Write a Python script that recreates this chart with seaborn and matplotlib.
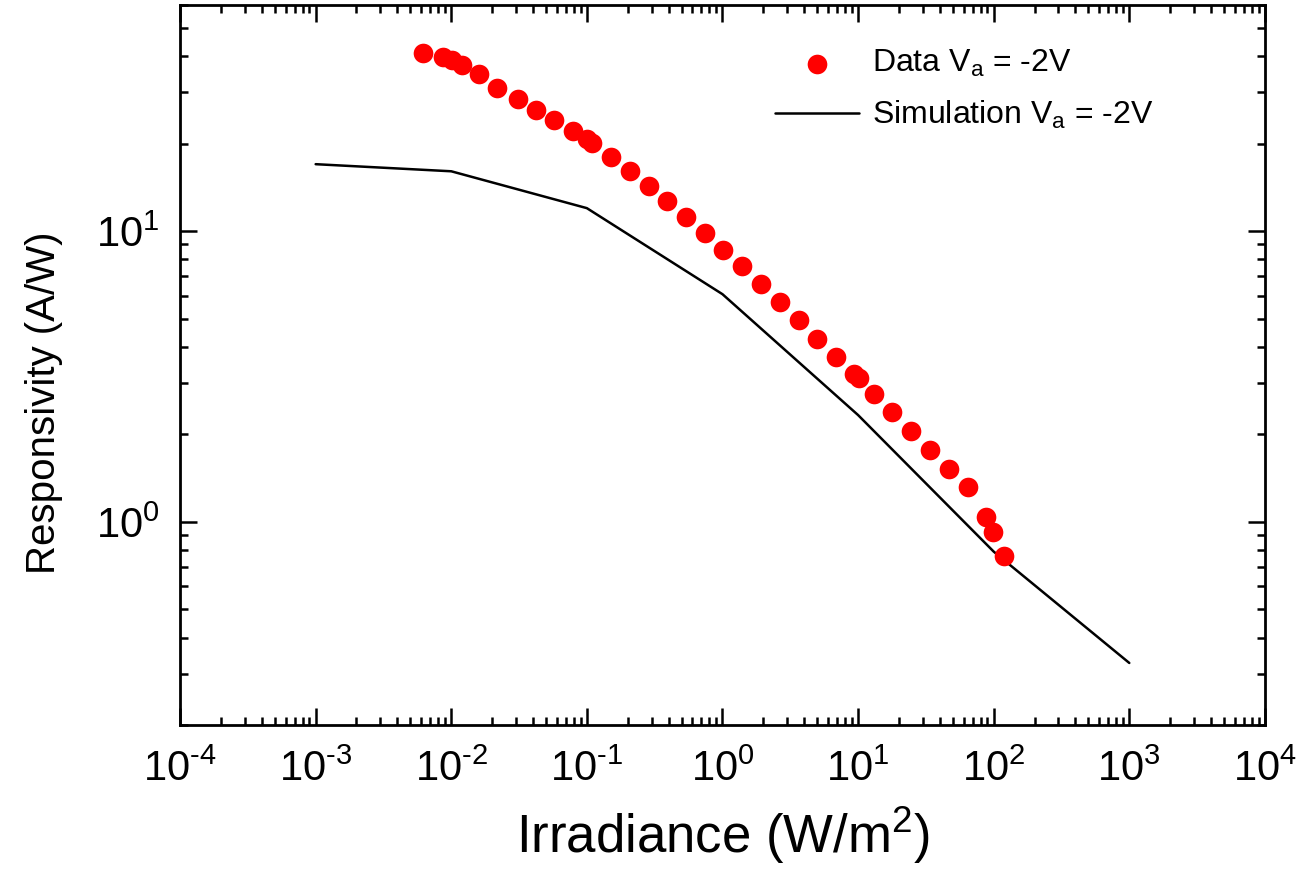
import numpy as np
import pandas as pd
import matplotlib
matplotlib.use('Agg')
import matplotlib.pyplot as plt
import seaborn as sns
from matplotlib.ticker import LogLocator, NullFormatter

irradiance_data = [0.0062, 0.0087, 0.0101, 0.0119, 0.0160, 0.0219, 0.0309, 0.0420,
                   0.0576, 0.0795, 0.0998, 0.110, 0.151, 0.208, 0.286, 0.392, 0.539,
                   0.745, 1.005, 1.40, 1.93, 2.66, 3.65, 4.99, 6.88, 9.3, 10.1, 13.1,
                   17.9, 24.6, 34.0, 46.7, 64.4, 87.9, 99.5, 120.0]
responsivity_data = [41.0, 39.7, 38.9, 37.2, 34.6, 31.0, 28.5, 26.1, 24.2, 22.1, 20.8,
                     20.1, 18.0, 16.1, 14.3, 12.7, 11.2, 9.87, 8.61, 7.57, 6.57, 5.71,
                     4.95, 4.27, 3.69, 3.22, 3.12, 2.76, 2.38, 2.05, 1.77, 1.52, 1.32,
                     1.04, 0.924, 0.760]

# simulation curve
irradiance_sim = [1e-3, 1e-2, 1e-1, 1e0, 1e1, 1e2, 1e3]
responsivity_sim = [17.0, 16.07, 12.0, 6.07, 2.33, 0.79, 0.327]

# tick labels (plain hyphen in the exponent, like the original)
x_ticks = [1e-4, 1e-3, 1e-2, 1e-1, 1e0, 1e1, 1e2, 1e3, 1e4]
x_exps = ['-4', '-3', '-2', '-1', '0', '1', '2', '3', '4']
y_ticks = [1e0, 1e1]
y_exps = ['0', '1']

df_data = pd.DataFrame({'irr': irradiance_data, 'resp': responsivity_data})
df_sim = pd.DataFrame({'irr': irradiance_sim, 'resp': responsivity_sim})

sns.set_style('ticks')
plt.rcParams['font.family'] = ['Liberation Sans', 'DejaVu Sans']
plt.rcParams['mathtext.fontset'] = 'custom'
plt.rcParams['mathtext.rm'] = 'Liberation Sans'
plt.rcParams['mathtext.it'] = 'Liberation Sans:italic'
plt.rcParams['mathtext.bf'] = 'Liberation Sans:bold'
plt.rcParams['axes.unicode_minus'] = False
for k in ['text.color', 'axes.labelcolor', 'xtick.color', 'ytick.color', 'axes.edgecolor']:
    plt.rcParams[k] = 'black'


def sci(e):
    return '10$^{\\mathregular{\\text{' + e + '}}}$'


fig, ax = plt.subplots(figsize=(13, 8.73), dpi=100)
fig.subplots_adjust(left=0.1385, right=0.973, top=0.9943, bottom=0.1695)

sns.lineplot(data=df_sim, x='irr', y='resp', ax=ax, color='black', linewidth=1.8,
             sort=False, estimator=None, label='Simulation V$_\\mathregular{a}$ = -2V')
sns.scatterplot(data=df_data, x='irr', y='resp', ax=ax, color='#ff0000', s=200,
                linewidth=0, label='Data V$_\\mathregular{a}$ = -2V', zorder=3)

ax.set_xscale('log')
ax.set_yscale('log')

ax.set_xticks(x_ticks, labels=[sci(e) for e in x_exps])
ax.set_yticks(y_ticks, labels=[sci(e) for e in y_exps])
ax.xaxis.set_minor_locator(LogLocator(base=10, subs=np.arange(2, 10), numticks=100))
ax.yaxis.set_minor_locator(LogLocator(base=10, subs=np.arange(2, 10), numticks=100))
ax.xaxis.set_minor_formatter(NullFormatter())
ax.yaxis.set_minor_formatter(NullFormatter())
ax.set_xlim(1e-4, 1e4)
ax.set_ylim(0.2, 60)

ax.tick_params(which='both', direction='in', top=True, right=True, width=1.8,
               labelsize=30, colors='black')
ax.tick_params(which='major', length=12)
ax.tick_params(which='minor', length=6)
ax.tick_params(axis='x', pad=18)
ax.tick_params(axis='y', pad=15)
for sp in ax.spines.values():
    sp.set_linewidth(2)
    sp.set_color('black')

ax.set_xlabel('Irradiance (W/m$^\\mathregular{2}$)', fontsize=38, labelpad=10)
ax.set_ylabel('Responsivity (A/W)', fontsize=29)
ax.yaxis.set_label_coords(-0.108, 0.447)

handles, labels = ax.get_legend_handles_labels()
ax.legend(handles[::-1], labels[::-1], loc='upper left', bbox_to_anchor=(0.548, 0.94),
          frameon=False, fontsize=23, handlelength=2.65, handletextpad=0.4,
          borderpad=0, borderaxespad=0, labelspacing=0.62, markerscale=1.0)

plt.savefig('out.png', dpi=100)
